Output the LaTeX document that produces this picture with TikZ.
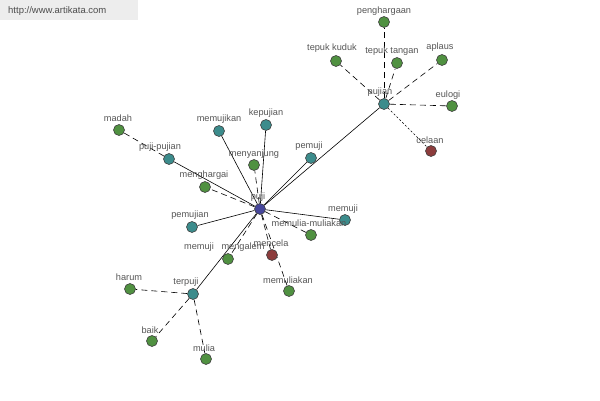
\documentclass[tikz,border=0pt]{standalone}
\usepackage{fontspec}
\setmainfont{Liberation Sans}
\usetikzlibrary{backgrounds}
\definecolor{vgrn}{RGB}{80,145,65}
\definecolor{vteal}{RGB}{60,140,140}
\definecolor{vblue}{RGB}{70,70,155}
\definecolor{vred}{RGB}{140,60,60}
\definecolor{labc}{RGB}{85,85,85}
\tikzset{
  vert/.style={circle, draw=black!75, line width=0.6pt, minimum size=11pt, inner sep=0pt},
  g/.style={vert, fill=vgrn},
  t/.style={vert, fill=vteal},
  b/.style={vert, fill=vblue},
  r/.style={vert, fill=vred},
  lab/.style={font=\fontsize{9.2}{10}\selectfont, text=labc, inner sep=0pt},
  sol/.style={draw=black, line width=0.6pt},
  dsh/.style={draw=black, line width=0.6pt, dash pattern=on 6pt off 4pt},
  dot/.style={draw=black, line width=0.6pt, dash pattern=on 2pt off 2pt},
}
\newcommand{\V}[7]{\node[#4] (#1) at (#2,#3) {}; \node[lab] (l-#1) at (#6,#7) {#5};}
\begin{document}
\begin{tikzpicture}[x=1pt,y=-1pt]
\useasboundingbox (0,0) rectangle (600,400);
\node[fill=black!7, minimum width=138pt, minimum height=20pt, anchor=north west, inner sep=0pt] (wm) at (0,0) {};
\node[font=\fontsize{9.5}{10}\selectfont, text=black!70, anchor=west, inner sep=0pt] (wmt) at (8,11) {http://www.artikata.com};
% vertices
\V{puji}{260}{209}{b}{puji}{258}{197}
\V{pujian}{384}{104}{t}{pujian}{380}{92}
\V{penghargaan}{384}{22}{g}{penghargaan}{384}{11}
\V{tepukkuduk}{336}{61}{g}{tepuk kuduk}{332}{48}
\V{tepuktangan}{397}{63}{g}{tepuk tangan}{392}{51}
\V{aplaus}{442}{60}{g}{aplaus}{440}{47}
\V{eulogi}{452}{106}{g}{eulogi}{448}{95}
\V{celaan}{431}{151}{r}{celaan}{430}{140}
\V{madah}{119}{130}{g}{madah}{118}{118}
\V{memujikan}{219}{131}{t}{memujikan}{219}{119}
\V{kepujian}{266}{125}{t}{kepujian}{266}{113}
\V{pujipujian}{169}{159}{t}{puji-pujian}{160}{147}
\V{menyanjung}{254}{165}{g}{menyanjung}{254}{154}
\V{pemuji}{311}{158}{t}{pemuji}{309}{146}
\V{menghargai}{205}{187}{g}{menghargai}{204}{175}
\V{pemujian}{192}{227}{t}{pemujian}{190}{215}
\V{memujiR}{345}{220}{t}{memuji}{343}{209}
\V{memuliamuliakan}{311}{235}{g}{memulia-muliakan}{309}{223}
\V{mengalem}{228}{259}{g}{mengalem}{243}{247}
\V{mencela}{272}{255}{r}{mencela}{271}{243}
\V{memuliakan}{289}{291}{g}{memuliakan}{288}{280}
\V{terpuji}{193}{294}{t}{terpuji}{186}{282}
\V{harum}{130}{289}{g}{harum}{129}{277}
\V{baik}{152}{341}{g}{baik}{150}{330}
\V{mulia}{206}{359}{g}{mulia}{204}{348}
\node[lab] (l-memujiL) at (199,247) {memuji};
% edges
\begin{scope}[on background layer]
\foreach \n in {pujian,memujikan,kepujian,pujipujian,pemuji,pemujian,memujiR,terpuji}
  \path[sol] (puji) -- (\n);
\foreach \n in {menyanjung,menghargai,memuliamuliakan,mengalem,mencela,memuliakan}
  \path[dsh] (puji) -- (\n);
\foreach \n in {penghargaan,tepukkuduk,tepuktangan,aplaus,eulogi}
  \path[dsh] (pujian) -- (\n);
\path[dot] (pujian) -- (celaan);
\foreach \n in {harum,baik,mulia}
  \path[dsh] (terpuji) -- (\n);
\path[dsh] (pujipujian) -- (madah);
\end{scope}
\end{tikzpicture}
\end{document}
